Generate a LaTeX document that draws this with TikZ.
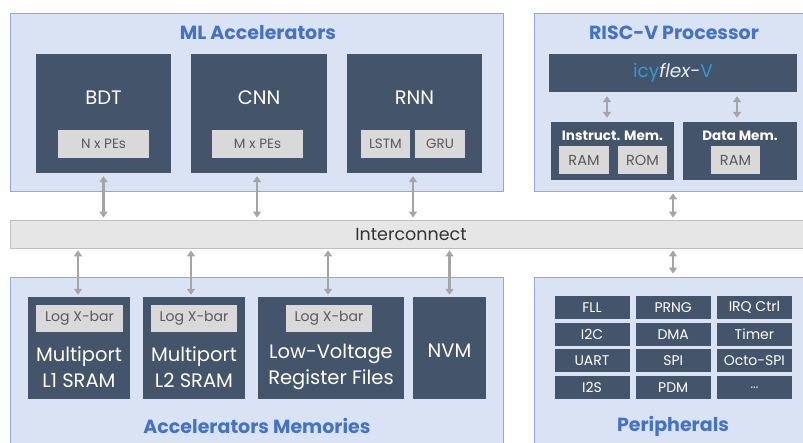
\documentclass[tikz,border=0pt]{standalone}
\usepackage{fontspec}
\setmainfont{Poppins}
\usetikzlibrary{arrows.meta}

\definecolor{grpfill}{HTML}{DAE3F3}
\definecolor{grpline}{HTML}{8FAADC}
\definecolor{slate}{HTML}{44546A}
\definecolor{chipfill}{HTML}{D9D9D9}
\definecolor{chiptext}{HTML}{595959}
\definecolor{titleblue}{HTML}{4472C4}
\definecolor{busfill}{HTML}{E7E6E6}
\definecolor{busline}{HTML}{BFBFBF}
\definecolor{arrowgray}{HTML}{A5A5A5}
\definecolor{icyblue}{HTML}{2E9BD6}

\begin{document}
\begin{tikzpicture}[x=1pt,y=-1pt,
  group/.style={draw=grpline, fill=grpfill, line width=0.8pt, inner sep=0pt},
  dark/.style={fill=slate, text=white, inner sep=0pt},
  chip/.style={fill=chipfill, text=chiptext, inner sep=0pt, font=\fontsize{13.5}{16}\selectfont},
  grptitle/.style={text=titleblue, font=\bfseries\fontsize{19}{22}\selectfont},
  bigtxt/.style={text=white, align=center, font=\fontsize{19.5}{26}\selectfont},
  subtitle/.style={text=white, font=\bfseries\fontsize{13.5}{16}\selectfont},
  periph/.style={dark, minimum width=75pt, minimum height=23pt, font=\fontsize{14}{16}\selectfont},
  biarrow/.style={draw=arrowgray, line width=2.6pt,
    {Triangle[width=8pt,length=6pt]}-{Triangle[width=8pt,length=6pt]}}
]
\useasboundingbox (0,0) rectangle (803,443);

% ---------- ML accelerators ----------
\node[group, minimum width=493pt, minimum height=178pt] (ml) at (256.5,102) {};
\node[grptitle] (mltitle) at (258,33) {ML Accelerators};

\node[dark, minimum width=135pt, minimum height=119pt] (bdt) at (103.5,113.5) {};
\node[bigtxt] (bdtlbl) at (103.5,98) {BDT};
\node[chip, minimum width=91pt, minimum height=28pt] (npe) at (103.5,144) {N x PEs};

\node[dark, minimum width=136pt, minimum height=119pt] (cnn) at (259,113.5) {};
\node[bigtxt] (cnnlbl) at (259,98) {CNN};
\node[chip, minimum width=91pt, minimum height=28pt] (mpe) at (257.5,144) {M x PEs};

\node[dark, minimum width=135pt, minimum height=119pt] (rnn) at (414.5,113.5) {};
\node[bigtxt] (rnnlbl) at (414.5,98) {RNN};
\node[chip, minimum width=49pt, minimum height=28pt] (lstm) at (385.5,144) {LSTM};
\node[chip, minimum width=50pt, minimum height=28pt] (gru) at (440,144) {GRU};

% ---------- RISC-V processor ----------
\node[group, minimum width=280pt, minimum height=178pt] (risc) at (674,102) {};
\node[grptitle] (risctitle) at (674,33) {RISC-V Processor};

\node[dark, minimum width=248pt, minimum height=38pt,
      font=\fontsize{18.5}{22}\selectfont] (icy) at (673,73)
  {\textcolor{icyblue}{icy}\textcolor{white!88!slate}{\itshape flex-}\textcolor{icyblue}{V}};

\node[dark, minimum width=123pt, minimum height=58pt] (imem) at (612.5,151) {};
\node[subtitle] (imemlbl) at (612.5,135.5) {Instruct. Mem.};
\node[chip, minimum width=50pt, minimum height=28pt, font=\fontsize{14.5}{16}\selectfont] (iram) at (584,160) {RAM};
\node[chip, minimum width=49pt, minimum height=28pt, font=\fontsize{14.5}{16}\selectfont] (irom) at (642.5,160) {ROM};

\node[dark, minimum width=114pt, minimum height=58pt] (dmem) at (740,151) {};
\node[subtitle] (dmemlbl) at (740,135.5) {Data Mem.};
\node[chip, minimum width=49pt, minimum height=28pt, font=\fontsize{14.5}{16}\selectfont] (dram) at (735.5,160) {RAM};

\draw[biarrow, shorten <=4pt, shorten >=4pt] ([xshift=-5.5pt]imem.north) -- ([xshift=-5.5pt]imem.north |- icy.south);
\draw[biarrow, shorten <=4pt, shorten >=4pt] ([xshift=-3pt]dmem.north) -- ([xshift=-3pt]dmem.north |- icy.south);

% ---------- Interconnect ----------
\node[draw=busline, fill=busfill, line width=0.8pt, minimum width=802pt, minimum height=28pt,
      inner sep=0pt] (ic) at (411,234) {};
\node[text=black!80, font=\fontsize{17.5}{20}\selectfont] (iclbl) at (411,234) {Interconnect};

% ---------- Accelerators memories ----------
\node[group, minimum width=493pt, minimum height=180pt] (amem) at (256.5,367) {};
\node[grptitle] (amemtitle) at (257,426) {Accelerators Memories};

\node[dark, minimum width=102pt, minimum height=102pt] (l1) at (79,348) {};
\node[chip, minimum width=87pt, minimum height=27pt, font=\fontsize{14}{16}\selectfont] (xb1) at (79.5,318.5) {Log X-bar};
\node[bigtxt] (l1lbl) at (79,367) {Multiport\\L1 SRAM};

\node[dark, minimum width=102pt, minimum height=102pt] (l2) at (194,348) {};
\node[chip, minimum width=86pt, minimum height=27pt, font=\fontsize{14}{16}\selectfont] (xb2) at (194,318.5) {Log X-bar};
\node[bigtxt] (l2lbl) at (194,367) {Multiport\\L2 SRAM};

\node[dark, minimum width=146pt, minimum height=102pt] (lv) at (331,348) {};
\node[chip, minimum width=86pt, minimum height=27pt, font=\fontsize{14}{16}\selectfont] (xb3) at (329,318.5) {Log X-bar};
\node[bigtxt] (lvlbl) at (331,367) {Low-Voltage\\Register Files};

\node[dark, minimum width=73pt, minimum height=102pt] (nvm) at (449.5,348) {};
\node[bigtxt] (nvmlbl) at (449.5,351) {NVM};

% ---------- Peripherals ----------
\node[group, minimum width=280pt, minimum height=180pt] (per) at (674,367) {};
\node[grptitle] (pertitle) at (673,426) {Peripherals};

\foreach \lbl [count=\i from 0] in {FLL,PRNG,IRQ Ctrl,I2C,DMA,Timer,UART,SPI,Octo-SPI,I2S,PDM,\textcolor{white!75!slate}{\dots}}{
  \pgfmathtruncatemacro{\col}{mod(\i,3)}
  \pgfmathtruncatemacro{\row}{int(\i/3)}
  \node[periph] (p\i) at (592+81.2*\col, 307.5+26.7*\row) {\lbl};
}

% ---------- links to the interconnect ----------
\draw[biarrow, shorten <=3pt, shorten >=2pt] (bdt.south) -- (bdt.south |- ic.north);
\draw[biarrow, shorten <=3pt, shorten >=2pt] ([xshift=-2pt]cnn.south) -- ([xshift=-2pt]cnn.south |- ic.north);
\draw[biarrow, shorten <=3pt, shorten >=2pt] ([xshift=-1.5pt]rnn.south) -- ([xshift=-1.5pt]rnn.south |- ic.north);
\draw[biarrow, shorten <=2pt, shorten >=2pt] ([xshift=-1pt]risc.south) -- ([xshift=-1pt]risc.south |- ic.north);

\draw[biarrow, shorten <=2pt, shorten >=2pt] ([xshift=-1pt]l1.north) -- ([xshift=-1pt]l1.north |- ic.south);
\draw[biarrow, shorten <=2pt, shorten >=2pt] ([xshift=-3pt]l2.north) -- ([xshift=-3pt]l2.north |- ic.south);
\draw[biarrow, shorten <=2pt, shorten >=2pt] ([xshift=-3pt]lv.north) -- ([xshift=-3pt]lv.north |- ic.south);
\draw[biarrow, shorten <=2pt, shorten >=2pt] (nvm.north) -- (nvm.north |- ic.south);
\draw[biarrow, shorten <=3pt, shorten >=2pt] ([xshift=-1pt]per.north) -- ([xshift=-1pt]per.north |- ic.south);
\end{tikzpicture}
\end{document}
